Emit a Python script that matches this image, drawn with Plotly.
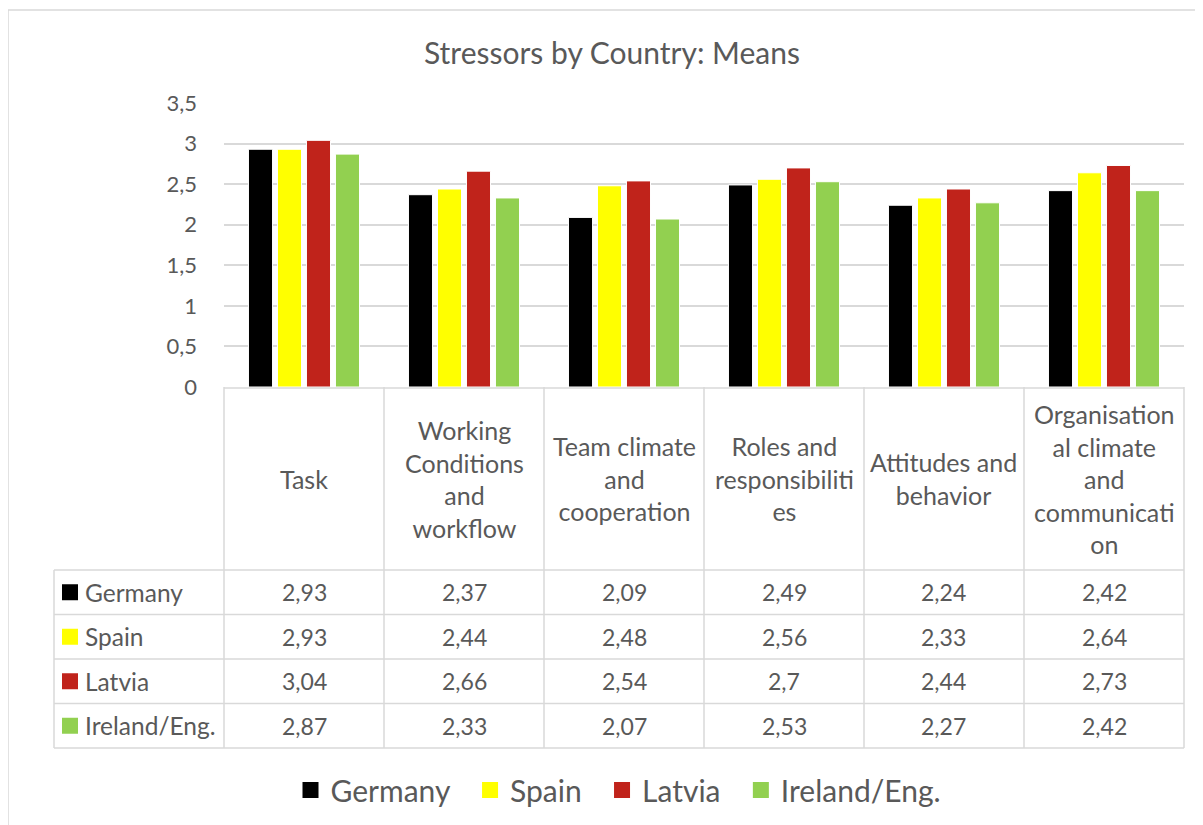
import plotly.graph_objects as go

# ---------------- data ----------------
categories = ["Task", "Working Conditions and workflow", "Team climate and cooperation",
              "Roles and responsibilities", "Attitudes and behavior",
              "Organisational climate and communication"]
header_labels = ["Task", "Working<br>Conditions<br>and<br>workflow", "Team climate<br>and<br>cooperation",
                 "Roles and<br>responsibiliti<br>es", "Attitudes and<br>behavior",
                 "Organisation<br>al climate<br>and<br>communicati<br>on"]
series_names = ["Germany", "Spain", "Latvia", "Ireland/Eng."]
germany = [2.93, 2.37, 2.09, 2.49, 2.24, 2.42]
spain = [2.93, 2.44, 2.48, 2.56, 2.33, 2.64]
latvia = [3.04, 2.66, 2.54, 2.70, 2.44, 2.73]
ireland = [2.87, 2.33, 2.07, 2.53, 2.27, 2.42]
series_values = [germany, spain, latvia, ireland]
colors = ["#000000", "#FFFF00", "#C0231B", "#92D050"]
y_ticks = [0, 0.5, 1, 1.5, 2, 2.5, 3, 3.5]

# ---------------- layout helpers ----------------
W, H = 1203, 825
OFF = 8  # page body margin
FONT = "Lato"
TXT = "#595959"
GRID = "#D9D9D9"

def px(x):
    return (x - OFF) / W

def py(y):
    return 1 - (y - OFF) / H

plot_left, plot_right = 224, 1184
plot_top, plot_bottom = 103, 387
tbl_left = 54
header_bottom = 570
row_h = 44.5
n_cat = len(categories)
col_w = (plot_right - plot_left) / n_cat

def fmt(v):
    s = ("%.2f" % v).rstrip("0").rstrip(".")
    return s.replace(".", ",")

fig = go.Figure()
for name, vals, col in zip(series_names, series_values, colors):
    fig.add_trace(go.Bar(x=categories, y=vals, name=name,
                         marker=dict(color=col, line=dict(color="white", width=1)),
                         showlegend=False))
    fig.add_trace(go.Scatter(x=[None], y=[None], mode="markers", name=name + "\u00a0\u00a0",
                             marker=dict(symbol="square", size=16, color=col)))

shapes = []
annotations = []
line = dict(color=GRID, width=1.5)

# chart border (top and left)
shapes.append(dict(type="line", xref="paper", yref="paper", x0=px(8), x1=px(W + 20), y0=py(10), y1=py(10),
                   line=dict(color=GRID, width=1.5)))
shapes.append(dict(type="line", xref="paper", yref="paper", x0=px(8), x1=px(8), y0=py(10), y1=py(H + 20),
                   line=dict(color=GRID, width=1.5)))

# table: vertical lines
n_rows = len(series_names)
for i in range(n_cat + 1):
    x = plot_left + i * col_w
    shapes.append(dict(type="line", xref="paper", yref="paper", x0=px(x), x1=px(x),
                       y0=py(plot_bottom), y1=py(header_bottom + row_h * n_rows), line=line))
shapes.append(dict(type="line", xref="paper", yref="paper", x0=px(tbl_left), x1=px(tbl_left),
                   y0=py(header_bottom), y1=py(header_bottom + row_h * n_rows), line=line))
# table: horizontal lines
shapes.append(dict(type="line", xref="paper", yref="paper", x0=px(plot_left), x1=px(plot_right),
                   y0=py(plot_bottom + 1), y1=py(plot_bottom + 1), line=line))
for r in range(n_rows + 1):
    y = header_bottom + r * row_h
    shapes.append(dict(type="line", xref="paper", yref="paper", x0=px(tbl_left), x1=px(plot_right),
                       y0=py(y), y1=py(y), line=line))

# header labels
for i, lab in enumerate(header_labels):
    annotations.append(dict(xref="paper", yref="paper", x=px(plot_left + (i + 0.5) * col_w),
                            y=py((plot_bottom + header_bottom) / 2), text=lab, showarrow=False,
                            font=dict(family=FONT, size=25, color=TXT), xanchor="center", yanchor="middle"))

# rows
for r, (name, vals, col) in enumerate(zip(series_names, series_values, colors)):
    yc = header_bottom + (r + 0.5) * row_h
    shapes.append(dict(type="rect", xref="paper", yref="paper", x0=px(62), x1=px(78),
                       y0=py(yc - 8), y1=py(yc + 8), fillcolor=col, line=dict(width=0)))
    annotations.append(dict(xref="paper", yref="paper", x=px(83), y=py(yc), text=name, showarrow=False,
                            font=dict(family=FONT, size=24.5, color=TXT), xanchor="left", yanchor="middle"))
    for i, v in enumerate(vals):
        annotations.append(dict(xref="paper", yref="paper", x=px(plot_left + (i + 0.5) * col_w), y=py(yc),
                                text=fmt(v), showarrow=False,
                                font=dict(family=FONT, size=23, color=TXT), xanchor="center", yanchor="middle"))

fig.update_layout(
    width=W, height=H,
    margin=dict(l=0, r=0, t=0, b=0, autoexpand=False),
    paper_bgcolor="white", plot_bgcolor="white",
    title=dict(text="Stressors by Country: Means", x=px(612), xanchor="center", y=py(53), yanchor="middle",
               font=dict(family=FONT, size=30, color=TXT)),
    barmode="group", bargap=0.275, bargroupgap=0.17,
    xaxis=dict(domain=[px(plot_left), px(plot_right)], showticklabels=False, showgrid=False,
               showline=False, zeroline=False),
    yaxis=dict(domain=[py(plot_bottom), py(plot_top)], range=[0, 3.5], tickvals=y_ticks,
               ticktext=[fmt(t) for t in y_ticks], showgrid=True, gridcolor=GRID, gridwidth=1.5,
               zeroline=False, showline=False, ticks="", ticklabelstandoff=26,
               tickfont=dict(family=FONT, size=22, color=TXT)),
    legend=dict(orientation="h", x=px(626), xanchor="center", y=py(790), yanchor="middle",
                font=dict(family=FONT, size=30, color=TXT), itemclick=False, bgcolor="rgba(0,0,0,0)"),
    shapes=shapes, annotations=annotations,
)

fig.write_html("out.html")
